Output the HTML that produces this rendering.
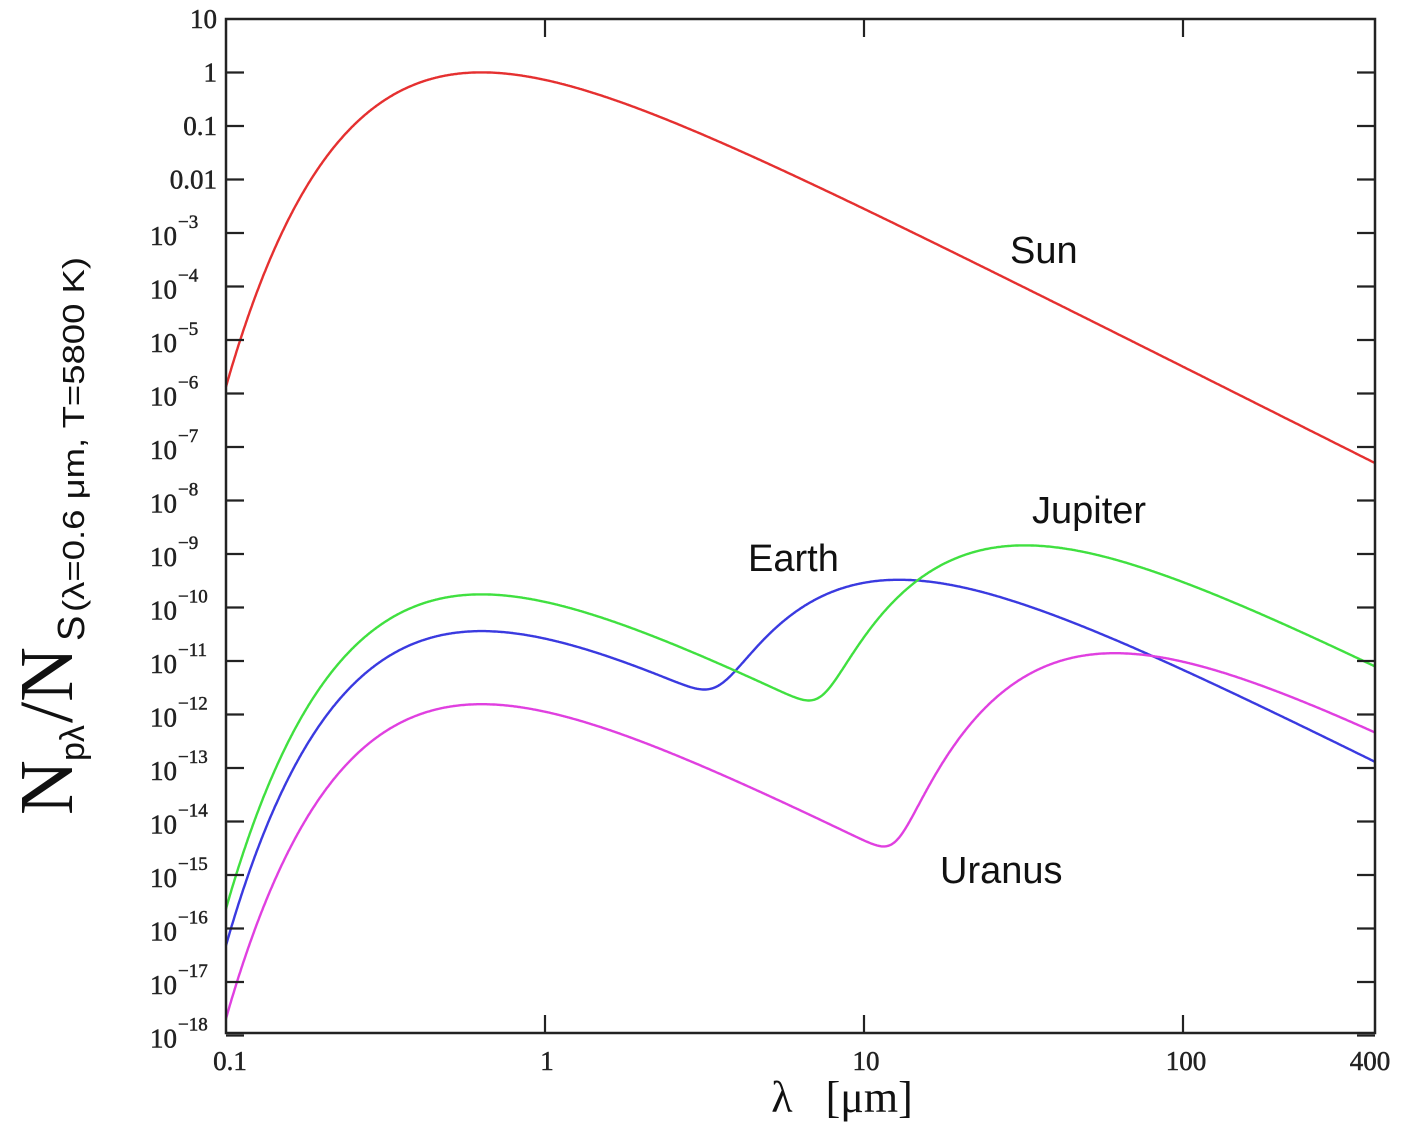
<!DOCTYPE html>
<html><head><meta charset="utf-8"><style>
html,body{margin:0;padding:0;background:#fff;}
svg{display:block;}
.tk{font-family:"Liberation Serif",serif;font-size:27px;fill:#222;stroke:#222;stroke-width:0.5;}
.lab{font-family:"Liberation Sans",sans-serif;font-size:38px;fill:#111;}
</style></head><body>
<svg id="s" width="1420" height="1130" viewBox="0 0 1420 1130" xmlns="http://www.w3.org/2000/svg">
<g id="curves" fill="none" stroke-width="2.4"></g>
<rect x="226" y="19" width="1149" height="1014" fill="none" stroke="#222" stroke-width="2.5"/>
<g id="ticks" stroke="#222" stroke-width="2.2"></g>
<g id="ylab" class="tk" text-anchor="end"></g>
<g class="tk" text-anchor="middle">
<text x="230" y="1070">0.1</text><text x="547" y="1070">1</text><text x="866" y="1070">10</text><text x="1186" y="1070">100</text><text x="1370" y="1070">400</text>
</g>
<text x="842" y="1112" text-anchor="middle" font-family="Liberation Serif,serif" font-size="44" fill="#111" xml:space="preserve">λ   [μm]</text>
<text class="lab" x="1010" y="263">Sun</text>
<text class="lab" x="1032" y="523">Jupiter</text>
<text class="lab" x="748" y="571">Earth</text>
<text class="lab" x="940" y="883">Uranus</text>
<g transform="translate(72,815) rotate(-90)" fill="#111">
<text x="0" y="0" font-family="Liberation Serif,serif" font-size="76">N</text>
<text x="54" y="12" font-family="Liberation Sans,sans-serif" font-size="34">pλ</text>
<text x="92" y="0" font-family="Liberation Serif,serif" font-size="76">/N</text>
<text x="174" y="12" font-family="Liberation Sans,sans-serif" font-size="38">S</text>
<text x="203" y="12" font-family="Liberation Sans,sans-serif" font-size="31" textLength="355" lengthAdjust="spacingAndGlyphs">(λ=0.6 μm, T=5800 K)</text>
</g>
</svg>
<script>
(function(){
var NS="http://www.w3.org/2000/svg";
function X(l){return 226+(Math.log10(l)+1)*319;}
function Y(v){return 19+(1-Math.log10(v))*53.5;}
function el(p,t,a){var e=document.createElementNS(NS,t);for(var k in a)e.setAttribute(k,a[k]);p.appendChild(e);return e;}
var tk=document.getElementById('ticks'),yl=document.getElementById('ylab');
for(var d=0;d>=-18;d--){var y=19+(1-d)*53.5;
 el(tk,'line',{x1:226,x2:244,y1:y,y2:y});el(tk,'line',{x1:1357,x2:1375,y1:y,y2:y});}
[1,10,100].forEach(function(l){var x=X(l);el(tk,'line',{x1:x,x2:x,y1:1033,y2:1015});el(tk,'line',{x1:x,x2:x,y1:19,y2:37});});
var simple={1:'10',0:'1','-1':'0.1','-2':'0.01'};
for(var d=1;d>=-18;d--){var yt=19+(1-d)*53.5;
 if(simple[d]!==undefined){var t=el(yl,'text',{x:217,y:yt+9});t.textContent=simple[d];}
 else{var t=el(yl,'text',{x:177,y:yt+12,'text-anchor':'end'});t.textContent='10';
  var s=el(yl,'text',{x:178,y:yt-5,'text-anchor':'start','font-size':'19'});s.textContent='\u2212'+(-d);}}
function N(l,T){var x=14388/(l*T);return Math.pow(l,-4)/(Math.exp(x)-1);}
var n0=N(0.6,5800);
function sun(l){return N(l,5800)/n0;}
function peakN(T){return N(3670/T,T);}
function planet(kr,T,pk){return function(l){return kr*sun(l)+pk*N(l,T)/peakN(T);};}
var series=[
 ['#e53030',sun],
 ['#3a3ae0',planet(3.6e-11,285,3.3e-10)],
 ['#40e040',planet(1.75e-10,115,1.45e-9)],
 ['#e040e0',planet(1.55e-12,60,1.4e-11)]
];
var g=document.getElementById('curves');
series.forEach(function(s){var d='';
 for(var i=0;i<=1200;i++){var l=0.1*Math.pow(4000,i/1200);var v=s[1](l);
  d+=(i?'L':'M')+X(l).toFixed(1)+','+Y(v).toFixed(1);}
 el(g,'path',{d:d,stroke:s[0]});});
})();
</script>
</body></html>
